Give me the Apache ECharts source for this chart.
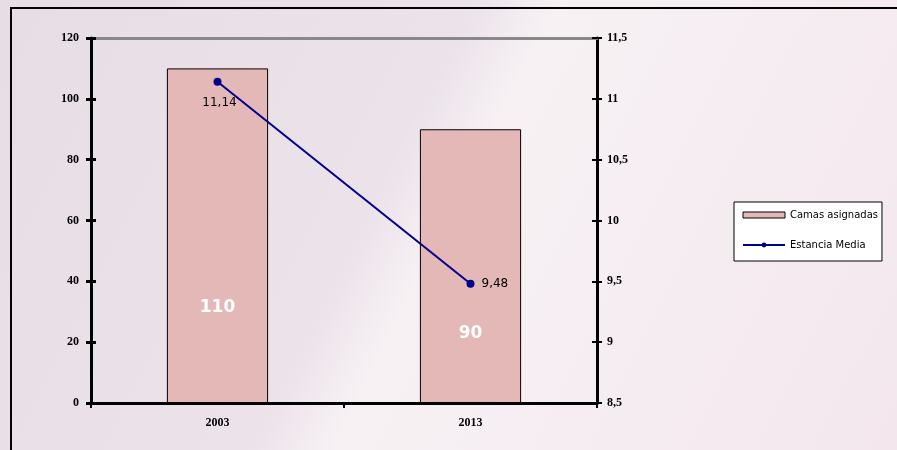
<!DOCTYPE html>
<html><head><meta charset="utf-8">
<script src="https://cdn.jsdelivr.net/npm/echarts@6/dist/echarts.min.js"></script>
<style>html,body{margin:0;padding:0;background:#f2eaef;}#c{width:897px;height:450px;}</style>
</head><body><div id="c"></div>
<script>
const categories = ['2003', '2013'];
const camasAsignadas = [110, 90];
const estanciaMedia = [11.14, 9.48];
const leftTicks = { min: 0, max: 120, interval: 20 };
const rightTicks = { min: 8.5, max: 11.5, interval: 0.5 };

const barLabelOffsets = [[0, -82], [0, -56]];
const lineLabelCfg = [
  { position: 'bottom', offset: [2, 6] },
  { position: 'right', offset: [2, 0] }
];
const fmt = v => String(v).replace('.', ',');
const axisFont = { fontFamily: 'Liberation Serif', fontWeight: 'bold', fontSize: 12, color: '#000' };

const chart = echarts.init(document.getElementById('c'), null, { renderer: 'canvas' });
chart.setOption({
  animation: false,
  backgroundColor: {
    type: 'linear', x: 0, y: 0, x2: 1, y2: 1,
    colorStops: [
      { offset: 0, color: '#e6dde5' },
      { offset: 0.42, color: '#ebe2ea' },
      { offset: 0.5, color: '#f7f1f4' },
      { offset: 1, color: '#f3e7ed' }
    ]
  },
  graphic: [{
    type: 'rect', shape: { x: 11, y: 8, width: 900, height: 470 },
    style: { fill: 'none', stroke: '#000', lineWidth: 2 }, silent: true, z: 100
  }],
  grid: { left: 91, right: 300, top: 38, bottom: 47 },
  legend: {
    left: 734, top: 202, orient: 'vertical', itemGap: 20,
    backgroundColor: '#fff', borderColor: '#000', borderWidth: 1,
    padding: [8, 4, 11, 8],
    itemWidth: 42, itemHeight: 6,
    textStyle: { fontFamily: 'DejaVu Sans', fontSize: 10, color: '#000' },
    data: [
      { name: 'Camas asignadas', icon: 'rect', itemStyle: { color: '#e5b8b8', borderColor: '#000', borderWidth: 1 } },
      { name: 'Estancia Media' }
    ]
  },
  xAxis: [{
    type: 'category', data: categories,
    axisLine: { lineStyle: { color: '#000', width: 3 } },
    axisTick: { show: true, length: 5, lineStyle: { color: '#000', width: 2 } },
    axisLabel: Object.assign({ margin: 14 }, axisFont)
  }, {
    type: 'category', data: categories, position: 'top',
    axisLine: { onZero: false, lineStyle: { color: '#888', width: 3, type: [3, 1] } },
    axisTick: { show: false }, axisLabel: { show: false }
  }],
  yAxis: [{
    type: 'value', position: 'left', min: leftTicks.min, max: leftTicks.max, interval: leftTicks.interval,
    axisLine: { show: true, lineStyle: { color: '#000', width: 3 } },
    axisTick: { show: true, length: 5, lineStyle: { color: '#000', width: 3 } },
    axisLabel: Object.assign({ margin: 12 }, axisFont),
    splitLine: { show: false }
  }, {
    type: 'value', position: 'right', min: rightTicks.min, max: rightTicks.max, interval: rightTicks.interval,
    axisLine: { show: true, lineStyle: { color: '#000', width: 3 } },
    axisTick: { show: true, length: 5, lineStyle: { color: '#000', width: 2 } },
    axisLabel: Object.assign({ margin: 10, formatter: v => fmt(v) }, axisFont),
    splitLine: { show: false }
  }, {
    type: 'value', position: 'left', min: leftTicks.min, max: leftTicks.max, interval: leftTicks.interval,
    axisLine: { show: false },
    axisTick: { show: true, inside: true, length: 5, lineStyle: { color: '#000', width: 3 } },
    axisLabel: { show: false }, splitLine: { show: false }
  }, {
    type: 'value', position: 'right', min: rightTicks.min, max: rightTicks.max, interval: rightTicks.interval,
    axisLine: { show: false },
    axisTick: { show: true, inside: true, length: 5, lineStyle: { color: '#000', width: 2 } },
    axisLabel: { show: false }, splitLine: { show: false }
  }],
  series: [{
    name: 'Camas asignadas', type: 'bar', yAxisIndex: 0, barWidth: '40%',
    itemStyle: { color: '#e5b8b8', borderColor: '#000', borderWidth: 1 },
    data: camasAsignadas.map((v, i) => ({
      value: v,
      label: { show: true, position: 'insideBottom', offset: barLabelOffsets[i],
        color: '#fff', fontFamily: 'DejaVu Sans', fontWeight: 'bold', fontSize: 17 }
    }))
  }, {
    name: 'Estancia Media', type: 'line', yAxisIndex: 1,
    color: '#00008b', symbol: 'circle', symbolSize: 8,
    lineStyle: { color: '#00008b', width: 2 },
    itemStyle: { color: '#00008b' },
    data: estanciaMedia.map((v, i) => ({
      value: v,
      label: Object.assign({ show: true, formatter: p => fmt(p.value),
        color: '#000', fontFamily: 'DejaVu Sans', fontSize: 12 }, lineLabelCfg[i])
    }))
  }]
});
</script></body></html>
